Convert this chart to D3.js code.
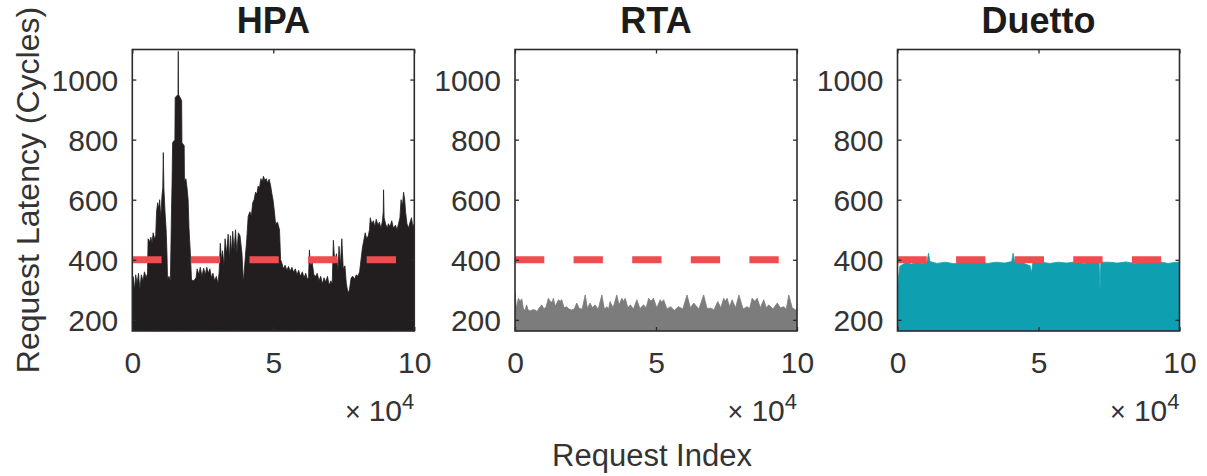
<!DOCTYPE html>
<html>
<head>
<meta charset="utf-8">
<script src="https://cdn.jsdelivr.net/npm/d3@7"></script>
<style>
	body { margin: 0; background: #fff; }
	svg text { font-family: "Liberation Sans", Arial, Helvetica, sans-serif; }
</style>
</head>
<body>
<svg id="chart" width="1207" height="476"></svg>
<script>
	// request index in thousands, latency in cycles (upper envelope of the dense trace)
	var titles = ["HPA", "RTA", "Duetto"],
		colors = ["#221e1f", "#7d7c7c", "#0e9fb0"],
		yTicks = [200, 400, 600, 800, 1000],
		xTicks = [0, 50, 100],
		xTickLabels = ["0", "5", "10"],
		threshold = 400;

	var hpaIdx = [0, 0.3, 0.8, 1.2, 1.7, 2.2, 2.7, 3.2, 3.8, 4.3, 4.9, 5.4, 5.6, 6.2, 6.6, 7.0, 7.4, 7.9, 8.3, 8.6,
		9.0, 9.4, 9.7, 10.1, 10.5, 10.8, 11.0, 11.2, 11.6, 12.0, 12.3, 12.5, 13.0, 13.5, 13.9, 14.1, 14.3, 15.1, 15.2, 16.2,
		16.3, 16.4, 17.5, 17.6, 18.4, 18.5, 19.0, 19.4, 19.8, 20.1, 20.6, 21.0, 21.8, 22.6, 23.0, 23.6, 24.1, 24.7, 25.3, 25.9,
		26.4, 27.0, 27.5, 28.1, 28.6, 29.2, 29.8, 30.4, 30.8, 31.2, 31.6, 32.0, 32.5, 32.9, 33.4, 34.0, 34.4, 34.8, 35.2, 35.6,
		36.1, 36.6, 37.1, 37.6, 38.2, 38.9, 39.4, 40.0, 40.6, 41.1, 41.7, 42.2, 42.7, 43.2, 43.7, 44.2, 44.6, 45.1, 45.6, 46.1,
		46.5, 47.0, 47.5, 48.0, 48.5, 49.0, 49.5, 49.9, 50.4, 50.8, 51.5, 52.2, 52.6, 53.0, 53.6, 54.2, 54.8, 55.4, 56.0, 56.6,
		57.2, 57.8, 58.4, 59.0, 59.6, 60.3, 60.9, 61.5, 62.1, 62.5, 62.8, 63.2, 63.8, 64.4, 65.0, 65.6, 66.2, 66.8, 67.4, 68.0,
		68.6, 69.2, 69.8, 70.4, 70.9, 71.3, 71.8, 72.4, 72.9, 73.3, 73.8, 74.3, 74.8, 75.4, 75.9, 76.5, 77.0, 77.6, 78.2, 78.8,
		79.4, 80.0, 80.6, 81.1, 81.6, 82.2, 82.6, 83.1, 83.7, 84.1, 84.4, 84.9, 85.5, 86.0, 86.5, 87.1, 87.6, 88.2, 88.7, 89.0,
		89.1, 89.3, 89.8, 90.4, 90.8, 91.4, 92.0, 92.6, 93.3, 93.9, 94.4, 94.9, 95.3, 95.8, 96.2, 96.6, 96.9, 97.4, 97.9, 98.5,
		99.0, 99.5, 100];
	var hpaMax = [250, 344, 300, 350, 320, 355, 300, 350, 330, 360, 340, 355, 470, 460, 475, 455, 490, 470, 480, 560,
		590, 570, 600, 540, 610, 640, 757, 640, 560, 500, 420, 333, 345, 330, 560, 657, 790, 800, 940, 950,
		1094, 950, 930, 790, 780, 660, 670, 640, 600, 507, 420, 333, 330, 340, 370, 350, 375, 345, 372, 350,
		375, 355, 370, 340, 355, 330, 345, 320, 360, 455, 400, 430, 380, 470, 420, 485, 400, 480, 420, 495,
		430, 500, 420, 490, 480, 420, 323, 400, 470, 545, 560, 545, 590, 600, 625, 620, 645, 640, 670, 660,
		678, 665, 670, 655, 668, 650, 620, 600, 560, 520, 525, 500, 400, 390, 370, 382, 365, 378, 362, 375,
		358, 370, 350, 365, 345, 360, 340, 355, 335, 340, 433, 380, 390, 350, 345, 355, 330, 345, 320, 340,
		325, 345, 315, 330, 320, 465, 390, 420, 360, 445, 380, 470, 370, 380, 320, 290, 300, 340, 345, 335,
		350, 345, 360, 400, 440, 470, 490, 470, 480, 500, 540, 520, 530, 510, 535, 515, 525, 505, 530, 560,
		633, 540, 520, 505, 520, 510, 530, 505, 515, 500, 520, 540, 600, 580, 625, 600, 560, 520, 505, 525,
		540, 510, 520];

	var rtaIdx = [0, 0.5, 1.2, 1.8, 2.4, 3, 3.6, 4.1, 4.7, 5.5, 6.3, 7.1, 7.8, 8.6, 9.5, 10.3, 11.1, 11.8, 12.5, 13.2,
		13.6, 14.3, 15.4, 16, 16.6, 17.4, 18.3, 19.2, 20.1, 21, 21.9, 22.8, 23.8, 24.9, 25.7, 26.6, 27.5, 28.4, 29.5, 30.8,
		31.7, 32.6, 33.2, 33.7, 34.8, 36.1, 36.9, 37.9, 38.5, 39.1, 40, 40.9, 42, 43.2, 44.3, 45.6, 46.5, 47.4, 48.2, 49.1,
		50.3, 51.5, 52.1, 52.7, 53.9, 55.1, 56.5, 58, 59.5, 61, 62.2, 63.4, 65.2, 66.9, 68.1, 69.3, 70.6, 71.9, 73, 74,
		74.6, 75.2, 76.1, 77, 78.2, 79.4, 80.9, 82.3, 83.2, 84.1, 85, 85.9, 87, 88.2, 89.1, 90, 91.5, 93, 94.1, 95.3,
		96.2, 97.1, 98.3, 99.5, 100];
	var rtaMax = [289, 240, 272, 262, 270, 236, 232, 250, 232, 230, 234, 233, 228, 240, 250, 236, 245, 272, 262, 258,
		272, 245, 267, 262, 267, 240, 244, 236, 233, 236, 256, 238, 236, 283, 238, 256, 240, 250, 235, 283,
		236, 244, 236, 261, 240, 283, 250, 272, 262, 272, 240, 250, 236, 267, 238, 250, 240, 272, 262, 272,
		240, 267, 258, 267, 236, 244, 232, 244, 236, 283, 240, 256, 236, 283, 238, 239, 234, 261, 240, 272,
		262, 272, 244, 267, 240, 283, 236, 244, 238, 272, 262, 272, 240, 267, 240, 250, 236, 256, 240, 244,
		236, 283, 240, 233, 236];

	var duettoIdx = [0, 0.3, 0.8, 1.5, 3, 5, 7, 9, 10.5, 11, 11.5, 14, 17, 20, 23, 26, 29, 32, 35, 38,
		40.5, 41, 41.5, 44, 47, 47.5, 48, 51, 54, 57, 60, 63, 66, 69, 71.5, 71.8, 72.1, 75, 78, 81,
		84, 87, 90, 93, 96, 99, 100];
	var duettoMax = [300, 333, 378, 383, 390, 386, 392, 388, 394, 422, 394, 388, 392, 387, 392, 389, 393, 388, 392, 389,
		394, 422, 394, 391, 380, 356, 390, 392, 388, 392, 389, 393, 388, 392, 392, 294, 392, 392, 389, 393,
		388, 392, 389, 393, 388, 392, 392];

	var series = [
		{ idx: hpaIdx, max: hpaMax },
		{ idx: rtaIdx, max: rtaMax },
		{ idx: duettoIdx, max: duettoMax }
	];

	var svg = d3.select("#chart"),
		panelLeft = [132.3, 515, 897.5],
		panelWidth = 282,
		plotTop = 49.5,
		plotBottom = 331,
		axisColor = "#2b2b2b",
		textColor = "#333";

	var y = d3.scaleLinear().domain([163, 1100]).range([plotBottom, plotTop]);

	series.forEach(function(s, i) {
		var x = d3.scaleLinear().domain([0, 100]).range([0, panelWidth]);
		var g = svg.append("g").attr("transform", "translate(" + panelLeft[i] + ",0)");

		g.append("clipPath").attr("id", "clip" + i)
			.append("rect").attr("x", 0).attr("y", plotTop).attr("width", panelWidth).attr("height", plotBottom - plotTop);

		var pts = s.idx.map(function(d, j) { return [d, s.max[j]]; });
		var area = d3.area()
			.x(function(d) { return x(d[0]); })
			.y0(y(163))
			.y1(function(d) { return y(d[1]); });

		g.append("path")
			.datum(pts)
			.attr("clip-path", "url(#clip" + i + ")")
			.attr("fill", colors[i])
			.attr("stroke", colors[i])
			.attr("stroke-width", 0.8)
			.attr("d", area);

		// 400-cycle target line
		g.append("line")
			.attr("x1", x(0)).attr("x2", x(100))
			.attr("y1", y(threshold)).attr("y2", y(threshold))
			.attr("stroke", "#ee4c4f")
			.attr("stroke-width", 7)
			.attr("stroke-dasharray", "29.3 29.3");

		// axes, ticks pointing inward like matlab
		var left = g.append("g").call(d3.axisLeft(y).tickValues(yTicks).tickSize(-4).tickPadding(14).tickFormat(d3.format("d")));
		var right = g.append("g").attr("transform", "translate(" + panelWidth + ",0)")
			.call(d3.axisRight(y).tickValues(yTicks).tickSize(-4).tickFormat(""));
		var bot = g.append("g").attr("transform", "translate(0," + plotBottom + ")")
			.call(d3.axisBottom(x).tickValues(xTicks).tickSize(-4).tickPadding(21)
				.tickFormat(function(d, j) { return xTickLabels[j]; }));
		var tp = g.append("g").attr("transform", "translate(0," + plotTop + ")")
			.call(d3.axisTop(x).tickValues(xTicks).tickSize(-4).tickFormat(""));

		[left, right, bot, tp].forEach(function(a) {
			a.select(".domain").remove();
			a.selectAll("line").attr("stroke", axisColor).attr("stroke-width", 1.3);
			a.selectAll("text").attr("fill", textColor).style("font-size", "30px")
				.style("font-family", "'Liberation Sans', Arial, sans-serif");
		});
		left.selectAll("text").attr("dy", "0.37em");

		g.append("rect")
			.attr("x", 0).attr("y", plotTop)
			.attr("width", panelWidth).attr("height", plotBottom - plotTop)
			.attr("fill", "none")
			.attr("stroke", axisColor)
			.attr("stroke-width", 1.6);

		g.append("text")
			.attr("x", panelWidth / 2).attr("y", 33)
			.attr("text-anchor", "middle")
			.attr("font-size", 36).attr("font-weight", "bold")
			.attr("fill", "#1c1c1c")
			.text(titles[i]);

		var mult = g.append("text")
			.attr("x", panelWidth).attr("y", 421)
			.attr("text-anchor", "end")
			.attr("font-size", 30)
			.attr("fill", textColor);
		mult.append("tspan").attr("font-size", 27).text("\u00d7");
		mult.append("tspan").attr("dx", 8).text("10");
		mult.append("tspan").attr("dy", -12).attr("font-size", 22).text("4");
	});

	svg.append("text")
		.attr("transform", "translate(39,190) rotate(-90)")
		.attr("text-anchor", "middle")
		.attr("font-size", 32)
		.attr("fill", textColor)
		.text("Request Latency (Cycles)");

	svg.append("text")
		.attr("x", 652).attr("y", 466)
		.attr("text-anchor", "middle")
		.attr("font-size", 31)
		.attr("fill", textColor)
		.text("Request Index");
</script>
</body>
</html>
